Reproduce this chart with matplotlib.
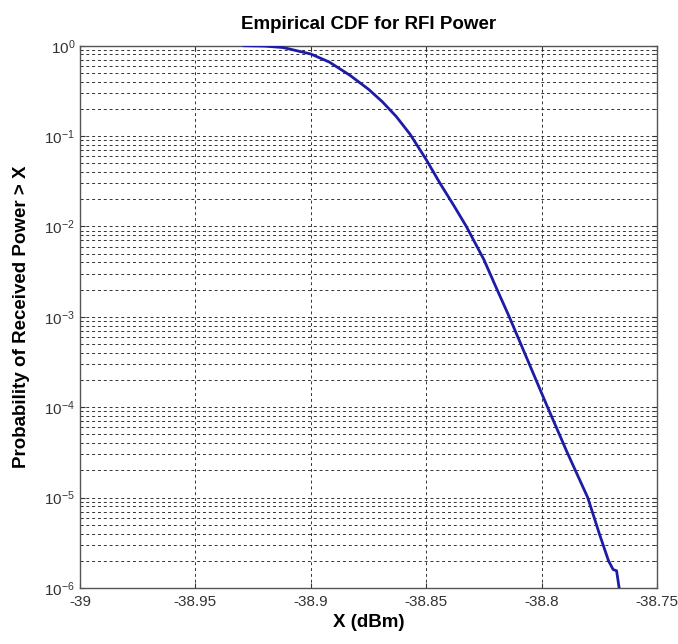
import matplotlib

matplotlib.use("Agg")
import matplotlib.pyplot as plt
from matplotlib.ticker import FixedLocator, LogLocator, NullFormatter

# values
x_dbm = [
    -38.9290, -38.9200, -38.9120, -38.9000, -38.8920, -38.8830, -38.8750,
    -38.8690, -38.8630, -38.8570, -38.8500, -38.8440, -38.8380, -38.8326,
    -38.8250, -38.8200, -38.8140, -38.8060, -38.7974, -38.7890, -38.7800,
    -38.7750, -38.7710, -38.7690, -38.7675, -38.7664,
]
prob_exceed = [
    1.0, 0.99, 0.955, 0.81, 0.66, 0.47, 0.33,
    0.24, 0.165, 0.105, 0.055, 0.030, 0.017, 0.010,
    0.0043, 0.0022, 0.0010, 3.3e-4, 1.0e-4, 3.2e-5, 1.0e-5,
    4.0e-6, 2.0e-6, 1.6e-6, 1.55e-6, 1.0e-6,
]
x_ticks = [-39, -38.95, -38.9, -38.85, -38.8, -38.75]
x_tick_labels = ["-39", "-38.95", "-38.9", "-38.85", "-38.8", "-38.75"]
y_ticks = [1e-6, 1e-5, 1e-4, 1e-3, 1e-2, 1e-1, 1e0]
y_tick_labels = [r"$10^{-6}$", r"$10^{-5}$", r"$10^{-4}$", r"$10^{-3}$",
                 r"$10^{-2}$", r"$10^{-1}$", r"$10^{0}$"]

plt.rcParams["font.family"] = ["Liberation Sans", "DejaVu Sans"]
plt.rcParams["mathtext.fontset"] = "custom"
plt.rcParams["mathtext.rm"] = "Liberation Sans"
plt.rcParams["mathtext.default"] = "regular"

fig = plt.figure(figsize=(6.78, 6.44), dpi=100)
ax = fig.add_axes([0.118, 0.087, 0.851, 0.842])

ax.plot(x_dbm, prob_exceed, color="#1c1ca6", linewidth=2.0, zorder=3)

ax.set_yscale("log")
ax.set_xlim(-39, -38.75)
ax.set_ylim(1e-6, 1)

ax.xaxis.set_major_locator(FixedLocator(x_ticks))
ax.set_xticklabels(x_tick_labels)
ax.yaxis.set_major_locator(FixedLocator(y_ticks))
ax.set_yticklabels(y_tick_labels)
ax.yaxis.set_minor_locator(LogLocator(base=10, subs=range(2, 10), numticks=20))
ax.yaxis.set_minor_formatter(NullFormatter())

grid_style = dict(color="#333333", linestyle=(0, (3, 3)), linewidth=0.7)
ax.grid(True, which="major", axis="both", **grid_style)
ax.grid(True, which="minor", axis="y", **grid_style)
ax.set_axisbelow(True)

ax.tick_params(which="both", direction="in", top=True, right=True,
               labelsize=11, colors="#333333")
ax.tick_params(axis="x", pad=5)
for spine in ax.spines.values():
    spine.set_color("#555555")
    spine.set_linewidth(1.0)

ax.set_title("Empirical CDF for RFI Power", fontsize=13.5, fontweight="bold", pad=12)
ax.set_xlabel("X (dBm)", fontsize=13.5, fontweight="bold", labelpad=4)
ax.set_ylabel("Probability of Received Power > X", fontsize=13.5, fontweight="bold",
              labelpad=10)

fig.savefig("out.png", dpi=100)
